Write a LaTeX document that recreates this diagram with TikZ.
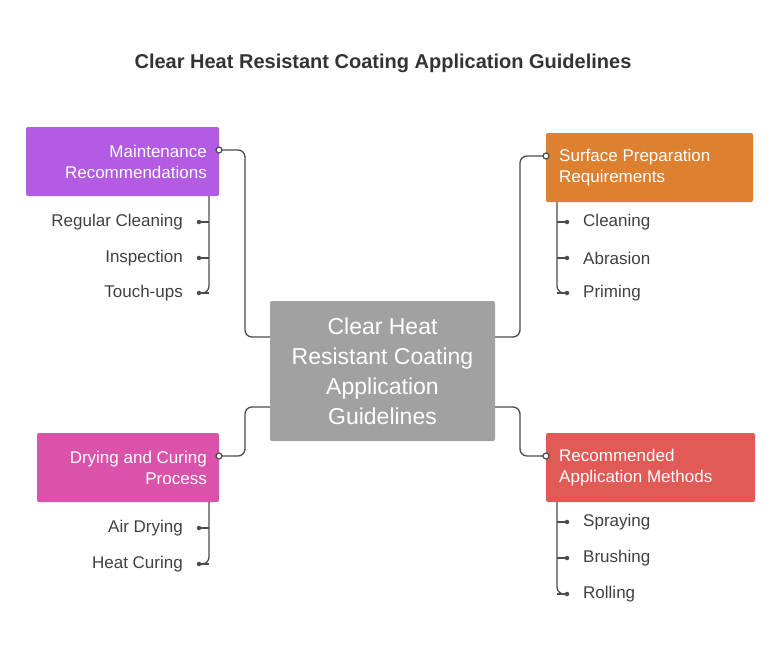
\documentclass[tikz,border=0pt]{standalone}
\usepackage{fontspec}
\setmainfont{Liberation Sans}
\definecolor{colm}{HTML}{B35CE3}\definecolor{cols}{HTML}{DD8131}\definecolor{cold}{HTML}{DA52AA}\definecolor{colr}{HTML}{E25A55}
\begin{document}
\begin{tikzpicture}[x=1pt,y=-1pt,
 box/.style={rounded corners=2pt,text=white,font=\fontsize{17}{21}\selectfont,inner sep=0pt},
 item/.style={font=\fontsize{17}{20}\selectfont,text=black!75,inner sep=0pt},
 con/.style={draw=black!70,line width=1.3pt,rounded corners=7pt},
 dot/.style={circle,fill=black!70,inner sep=0pt,minimum size=4.5pt},
 ring/.style={circle,draw=black!70,fill=white,line width=1.2pt,inner sep=0pt,minimum size=6pt}]
\useasboundingbox (0,0) rectangle (783,654);
\node[font=\bfseries\fontsize{20}{24}\selectfont,text=black!80] (t) at (383,63) {Clear Heat Resistant Coating Application Guidelines};
\fill[black!37,rounded corners=2pt] (270,301) rectangle (495,441);
\node[text=white,font=\fontsize{23}{30}\selectfont,align=center] (c) at (382.5,371) {Clear Heat\\Resistant Coating\\Application\\Guidelines};
\fill[colm,rounded corners=2pt] (26,127) rectangle (219,196);
\node[box,align=right,anchor=east] (m) at (207,162) {Maintenance\\Recommendations};
\fill[cols,rounded corners=2pt] (546,133) rectangle (753,202);
\node[box,align=left,anchor=west] (s) at (559,168) {Surface Preparation\\Requirements};
\fill[cold,rounded corners=2pt] (37,433) rectangle (219,502);
\node[box,align=right,anchor=east] (d) at (207,468) {Drying and Curing\\Process};
\fill[colr,rounded corners=2pt] (546,433) rectangle (755,502);
\node[box,align=left,anchor=west] (r) at (559,468) {Recommended\\Application Methods};
\coordinate (c1) at (270,337); \coordinate (c2) at (495,337);
\coordinate (c3) at (270,407); \coordinate (c4) at (495,407);
\draw[con] (c1) -- (245,337) -- (245,150) -- (219,150);
\draw[con] (c2) -- (520,337) -- (520,156) -- (546,156);
\draw[con] (c3) -- (245,407) -- (245,456) -- (219,456);
\draw[con] (c4) -- (520,407) -- (520,456) -- (546,456);
\node[ring] at (219,150) {}; \node[ring] at (546,156) {};
\node[ring] at (219,456) {}; \node[ring] at (546,456) {};
\draw[con] (209,196) -- (209,293) -- (199,293);
\foreach \y/\t in {222/Regular Cleaning,258/Inspection,293/Touch-ups}{
 \draw[con] (209,\y) -- (199,\y); \node[dot] at (199,\y) {};
 \node[item,anchor=east] at (183,\y) {\t};}
\draw[con] (209,502) -- (209,564) -- (199,564);
\foreach \y/\t in {528/Air Drying,564/Heat Curing}{
 \draw[con] (209,\y) -- (199,\y); \node[dot] at (199,\y) {};
 \node[item,anchor=east] at (183,\y) {\t};}
\draw[con] (557,202) -- (557,293) -- (567,293);
\foreach \y/\t in {222/Cleaning,258/Abrasion,293/Priming}{
 \draw[con] (557,\y) -- (567,\y); \node[dot] at (567,\y) {};
 \node[item,anchor=west] at (583,\y) {\t};}
\draw[con] (557,502) -- (557,594) -- (567,594);
\foreach \y/\t in {522/Spraying,558/Brushing,594/Rolling}{
 \draw[con] (557,\y) -- (567,\y); \node[dot] at (567,\y) {};
 \node[item,anchor=west] at (583,\y) {\t};}
\end{tikzpicture}
\end{document}
